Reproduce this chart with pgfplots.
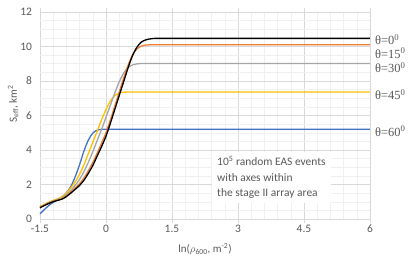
\documentclass[border=0pt]{standalone}
\usepackage{pgfplots}
\pgfplotsset{compat=1.18}
\usepackage{fontspec}
\setmainfont{Carlito}
\newfontfamily\grk{Liberation Serif}
\definecolor{txt}{HTML}{595959}
\definecolor{majg}{HTML}{D9D9D9}
\definecolor{ming}{HTML}{F0F0F0}
\definecolor{cblue}{HTML}{4472C4}
\definecolor{cyel}{HTML}{FFC000}
\definecolor{cgray}{HTML}{A5A5A5}
\definecolor{corg}{HTML}{ED7D31}
\newcommand{\thlab}[1]{{\grk\fontsize{12.5}{13}\selectfont θ=#1\textsuperscript{0}}}
\begin{document}
\fontsize{11.5}{13}\selectfont
\begin{tikzpicture}
\begin{axis}[
  scale only axis, width=330bp, height=207bp,
  xmin=-1.5, xmax=6, ymin=0, ymax=12,
  xtick={-1.5,0,1.5,3,4.5,6},
  xticklabels={-1.5,0,1.5,3,4.5,6},
  ytick={0,2,4,6,8,10,12},
  yticklabels={0,2,4,6,8,10,12},
  minor x tick num=4, minor y tick num=3,
  grid=both,
  major grid style={majg, line width=0.6pt},
  minor grid style={ming, line width=0.5pt},
  axis line style={draw=none},
  tick style={draw=none},
  extra x ticks={-1.5,0,1.5,3,4.5,6}, extra x tick labels={},
  extra x tick style={grid=none, tick style={draw=majg, line width=0.6pt}, major tick length=4bp, tick align=outside},
  ticklabel style={font=\fontsize{11.5}{13}\selectfont, text=txt},
  xticklabel style={yshift=-2bp},
  yticklabel style={xshift=-4bp},
  xlabel={ln($\rho$\textsubscript{600}, m\textsuperscript{-2})},
  ylabel={S\textsubscript{eff}, km\textsuperscript{2}},
  label style={font=\fontsize{11}{13}\selectfont, text=txt},
  xlabel style={yshift=1bp},
  ylabel style={yshift=-6bp, xshift=12bp},
  clip=false,
  line join=round,
]
\addplot[cblue, line width=1.3pt, smooth, tension=0.5] coordinates {
(-1.5,0.3) (-1.4,0.55) (-1.3,0.78) (-1.2,0.97) (-1.1,1.12) (-1.0,1.28) (-0.9,1.52) (-0.8,1.88) (-0.7,2.45) (-0.6,3.15) (-0.5,3.95) (-0.4,4.58) (-0.3,4.98) (-0.2,5.15) (-0.1,5.2) (0,5.2) (0.1,5.2) (0.2,5.2) (0.4,5.2) (6,5.2)};
\addplot[cyel, line width=1.3pt, smooth, tension=0.5] coordinates {
(-1.5,0.72) (-1.4,0.85) (-1.3,0.98) (-1.2,1.08) (-1.1,1.17) (-1.0,1.28) (-0.9,1.5) (-0.8,1.8) (-0.7,2.15) (-0.6,2.6) (-0.5,3.15) (-0.4,3.8) (-0.3,4.45) (-0.2,5.1) (-0.1,5.75) (0,6.35) (0.1,6.85) (0.2,7.15) (0.3,7.3) (0.4,7.35) (0.5,7.36) (0.6,7.36) (0.7,7.36) (0.9,7.36) (6,7.36)};
\addplot[cgray, line width=1.3pt, smooth, tension=0.5] coordinates {
(-1.5,0.7) (-1.4,0.82) (-1.3,0.95) (-1.2,1.05) (-1.1,1.13) (-1.0,1.22) (-0.9,1.4) (-0.8,1.65) (-0.7,1.95) (-0.6,2.3) (-0.5,2.75) (-0.4,3.3) (-0.3,3.9) (-0.2,4.55) (-0.1,5.2) (0,5.9) (0.1,6.6) (0.2,7.3) (0.3,7.95) (0.4,8.45) (0.5,8.78) (0.6,8.93) (0.7,8.99) (0.8,9.02) (0.9,9.02) (1.0,9.02) (1.2,9.02) (6,9.02)};
\addplot[corg, line width=1.3pt, smooth, tension=0.5] coordinates {
(-1.5,0.7) (-1.4,0.8) (-1.3,0.92) (-1.2,1.02) (-1.1,1.1) (-1.0,1.18) (-0.9,1.33) (-0.8,1.55) (-0.7,1.8) (-0.6,2.05) (-0.5,2.38) (-0.4,2.8) (-0.3,3.28) (-0.2,3.82) (-0.1,4.4) (0,5.0) (0.1,5.75) (0.2,6.55) (0.3,7.35) (0.4,8.15) (0.5,8.9) (0.6,9.5) (0.7,9.85) (0.8,10.02) (0.9,10.08) (1.0,10.1) (1.1,10.1) (1.2,10.1) (1.4,10.1) (6,10.1)};
\addplot[black, line width=1.3pt, smooth, tension=0.5] coordinates {
(-1.5,0.65) (-1.4,0.78) (-1.3,0.9) (-1.2,1.0) (-1.1,1.08) (-1.0,1.15) (-0.9,1.3) (-0.8,1.5) (-0.7,1.72) (-0.6,1.95) (-0.5,2.25) (-0.4,2.65) (-0.3,3.1) (-0.2,3.65) (-0.1,4.2) (0,4.8) (0.1,5.55) (0.2,6.35) (0.3,7.15) (0.4,7.95) (0.5,8.75) (0.6,9.45) (0.7,9.95) (0.8,10.25) (0.9,10.38) (1.0,10.44) (1.1,10.47) (1.2,10.47) (1.3,10.47) (1.5,10.47) (6,10.47)};
\node[anchor=west, text=txt, inner sep=0pt, xshift=5bp] at (axis cs:6,10.4) {\thlab{0}};
\node[anchor=west, text=txt, inner sep=0pt, xshift=5bp] at (axis cs:6,9.62) {\thlab{15}};
\node[anchor=west, text=txt, inner sep=0pt, xshift=5bp] at (axis cs:6,8.76) {\thlab{30}};
\node[anchor=west, text=txt, inner sep=0pt, xshift=5bp] at (axis cs:6,7.2) {\thlab{45}};
\node[anchor=west, text=txt, inner sep=0pt, xshift=5bp] at (axis cs:6,5.1) {\thlab{60}};
\node[anchor=north west, fill=white, text=txt, align=left, inner xsep=5bp, inner ysep=4bp,
  font=\fontsize{11.5}{15.5}\selectfont] at (axis cs:2.41,3.88)
  {10\textsuperscript{5} random EAS events\\with axes within\\the stage II array area};
\end{axis}
\pgfresetboundingbox
\useasboundingbox (-40bp,-42bp) rectangle (375bp,219bp);
\end{tikzpicture}
\end{document}
